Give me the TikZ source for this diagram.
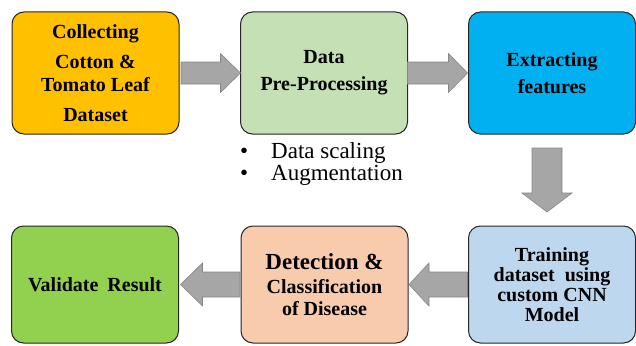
\documentclass[tikz,border=0pt]{standalone}
\usepackage{fontspec}
\setmainfont{LiberationSerif}[Extension=.ttf, UprightFont=*-Regular, BoldFont=*-Bold,
  ItalicFont=*-Italic, BoldItalicFont=*-BoldItalic]
\usetikzlibrary{calc}

\definecolor{collectcol}{HTML}{FFC000}
\definecolor{prepcol}{HTML}{C5E0B4}
\definecolor{extractcol}{HTML}{00B0F0}
\definecolor{traincol}{HTML}{BDD7EE}
\definecolor{detectcol}{HTML}{F8CBAD}
\definecolor{validcol}{HTML}{92D050}
\definecolor{arrowfill}{HTML}{A6A6A6}
\definecolor{arrowline}{HTML}{868686}

\tikzset{
  stage/.style={draw=black!85, line width=1pt, rounded corners=12pt,
    minimum width=167pt, inner sep=0pt, outer sep=0pt, align=center,
    font=\fontsize{20}{23}\selectfont\bfseries},
  toprow/.style={stage, minimum height=122pt},
  botrow/.style={stage, minimum height=117pt},
  fatarrow/.style={fill=arrowfill, draw=arrowline, line width=0.6pt},
  bullet/.style={anchor=base west, inner sep=0pt, font=\fontsize{23}{22}\selectfont}
}

\begin{document}
\begin{tikzpicture}[x=1pt,y=-1pt]
\useasboundingbox (0,0) rectangle (636,345);

% top row
\node[toprow, fill=collectcol] (collect) at (95.5,73)
  {Collecting\\[7pt]Cotton \&\\Tomato Leaf\\[7pt]Dataset};
\node[toprow, fill=prepcol] (prep) at (324,73) {Data\\[4pt]Pre-Processing};
\node[toprow, fill=extractcol] (extract) at (552,73) {Extracting\\[4pt]features};

% bottom row
\node[botrow, fill=validcol] (valid) at (95,284.5) {Validate\hspace{0.45em}Result};
\node[botrow, fill=detectcol] (detect) at (324.5,284.5)
  {{\fontsize{23}{25}\selectfont Detection \&}\\[1pt]Classification\\[-1pt]of Disease};
\node[botrow, fill=traincol] (train) at (552,284.5)
  {Training\\[-2.5pt]dataset~~using\\[-3pt]custom CNN\\[-3pt]Model};

% pre-processing steps
\node[bullet] (scaling) at (240,158) {\makebox[31pt][l]{\textbullet}Data scaling};
\node[bullet] (augment) at (240,180) {\makebox[31pt][l]{\textbullet}Augmentation};

% block arrows
\draw[fatarrow] ([xshift=2pt,yshift=11pt]collect.east) -- ([xshift=-20pt,yshift=11pt]prep.west)
  -- ([xshift=-20pt,yshift=19.5pt]prep.west) -- (prep.west)
  -- ([xshift=-20pt,yshift=-19.5pt]prep.west) -- ([xshift=-20pt,yshift=-11pt]prep.west)
  -- ([xshift=2pt,yshift=-11pt]collect.east) -- cycle;
\draw[fatarrow] ([yshift=11pt]prep.east) -- ([xshift=-20pt,yshift=11pt]extract.west)
  -- ([xshift=-20pt,yshift=19.5pt]extract.west) -- ([xshift=-1pt]extract.west)
  -- ([xshift=-20pt,yshift=-19.5pt]extract.west) -- ([xshift=-20pt,yshift=-11pt]extract.west)
  -- ([yshift=-11pt]prep.east) -- cycle;
\draw[fatarrow] ([xshift=-20pt,yshift=-14pt]extract.south) -- ([xshift=-20pt,yshift=33pt]train.north)
  -- ([xshift=-30pt,yshift=33pt]train.north) -- ([xshift=-5pt,yshift=14pt]train.north)
  -- ([xshift=20pt,yshift=33pt]train.north) -- ([xshift=10pt,yshift=33pt]train.north)
  -- ([xshift=10pt,yshift=-14pt]extract.south) -- cycle;
\draw[fatarrow] ([xshift=-1pt,yshift=12.5pt]train.west) -- ([xshift=21pt,yshift=12.5pt]detect.east)
  -- ([xshift=21pt,yshift=21.5pt]detect.east) -- ([xshift=1pt]detect.east)
  -- ([xshift=21pt,yshift=-21.5pt]detect.east) -- ([xshift=21pt,yshift=-12.5pt]detect.east)
  -- ([xshift=-1pt,yshift=-12.5pt]train.west) -- cycle;
\draw[fatarrow] ([xshift=-1pt,yshift=12.5pt]detect.west) -- ([xshift=24pt,yshift=12.5pt]valid.east)
  -- ([xshift=24pt,yshift=21.5pt]valid.east) -- ([xshift=2pt]valid.east)
  -- ([xshift=24pt,yshift=-21.5pt]valid.east) -- ([xshift=24pt,yshift=-12.5pt]valid.east)
  -- ([xshift=-1pt,yshift=-12.5pt]detect.west) -- cycle;
\end{tikzpicture}
\end{document}
